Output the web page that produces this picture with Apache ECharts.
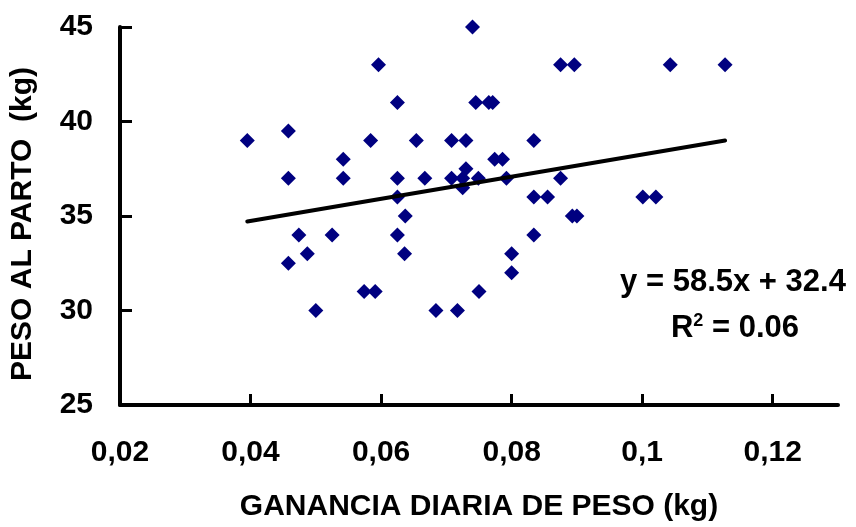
<!DOCTYPE html>
<html>
<head>
<meta charset="utf-8">
<script src="https://cdn.jsdelivr.net/npm/echarts@6/dist/echarts.min.js"></script>
<style>html,body{margin:0;padding:0;background:#fff}#c{width:856px;height:527px}</style>
</head>
<body>
<div id="c"></div>
<script>
// Ganancia diaria de peso (kg)
var gdp = [0.0395,0.0458,0.0458,0.0458,0.0474,0.0487,0.0500,0.0525,0.0542,0.0542,
  0.0574,0.0591,0.0584,0.0596,0.0625,0.0625,0.0625,0.0625,0.0636,0.0637,
  0.0654,0.0667,0.0684,0.0708,0.0708,0.0717,0.0725,0.0725,0.0730,0.0730,
  0.0740,0.0745,0.0749,0.0750,0.0765,0.0771,0.0774,0.0786,0.0792,0.0800,
  0.0800,0.0834,0.0834,0.0834,0.0855,0.0875,0.0875,0.0896,0.0893,0.0900,
  0.1001,0.1021,0.1043,0.1127];
// Peso al parto (kg)
var peso = [39,39.5,37,32.5,34,33,30,34,38,37,
  31,31,39,43,41,37,36,34,33,35,
  39,37,30,39,37,30,37,36.5,39,37.5,
  45,41,37,31,41,41,38,38,37,33,
  32,39,36,34,36,43,37,43,35,35,
  36,36,43,43];
var xTicks = [0.02,0.04,0.06,0.08,0.10,0.12];
var xMin = 0.02, xMax = 0.13;
var yMin = 25, yMax = 45, yStep = 5;
var slope = 58.5, intercept = 32.4;
var eqText = 'y = 58.5x + 32.4';
var r2Text = '0.06';

var pts = gdp.map(function(x,i){return [x, peso[i]];});
var lo = Math.min.apply(null,gdp), hi = Math.max.apply(null,gdp);
var trend = [[lo, slope*lo+intercept],[hi, slope*hi+intercept]];

var FONT = "'Liberation Sans', Arial, sans-serif";
var chart = echarts.init(document.getElementById('c'));
chart.setOption({
  animation:false,
  backgroundColor:'#ffffff',
  grid:{left:120,right:18,top:27,bottom:119,containLabel:false},
  xAxis:{
    type:'value', min:xMin, max:xMax,
    name:'GANANCIA DIARIA DE PESO (kg)', nameLocation:'middle', nameGap:87,
    nameTextStyle:{fontFamily:FONT,fontWeight:'bold',fontSize:30,color:'#000'},
    axisLine:{show:true,onZero:false,lineStyle:{color:'#000',width:4}},
    axisTick:{show:true,inside:true,length:11,lineStyle:{color:'#000',width:3},customValues:xTicks},
    axisLabel:{customValues:xTicks,margin:33,fontFamily:FONT,fontWeight:'bold',fontSize:30,color:'#000',
      formatter:function(v){return String(Math.round(v*100)/100).replace('.',',');}},
    splitLine:{show:false}
  },
  yAxis:{
    type:'value', min:yMin, max:yMax, interval:yStep,
    name:'PESO AL PARTO  (kg)', nameLocation:'middle', nameGap:82, nameRotate:90,
    nameTextStyle:{fontFamily:FONT,fontWeight:'bold',fontSize:30,color:'#000',padding:[0,16,0,0]},
    axisLine:{show:true,onZero:false,lineStyle:{color:'#000',width:4}},
    axisTick:{show:true,inside:true,length:12,lineStyle:{color:'#000',width:3}},
    axisLabel:{margin:27,fontFamily:FONT,fontWeight:'bold',fontSize:30,color:'#000'},
    splitLine:{show:false}
  },
  series:[
    {type:'scatter',data:pts,symbol:'diamond',symbolSize:15,
     itemStyle:{color:'#000080',opacity:1},z:2},
    {type:'line',data:trend,symbol:'none',lineStyle:{color:'#000',width:4,cap:'round'},z:3,silent:true}
  ],
  graphic:[
    {type:'text',x:733,y:282,z:10,
     style:{text:eqText,fill:'#000',font:"bold 31px "+FONT,textAlign:'center',textVerticalAlign:'middle'}},
    {type:'text',x:735,y:328,z:10,
     style:{text:'R{sup|2} = '+r2Text,fill:'#000',font:"bold 31px "+FONT,textAlign:'center',textVerticalAlign:'middle',
       rich:{sup:{fontSize:18,fontWeight:'bold',fontFamily:FONT,verticalAlign:'top',padding:[0,0,14,0]}}}}
  ]
});
</script>
</body>
</html>
